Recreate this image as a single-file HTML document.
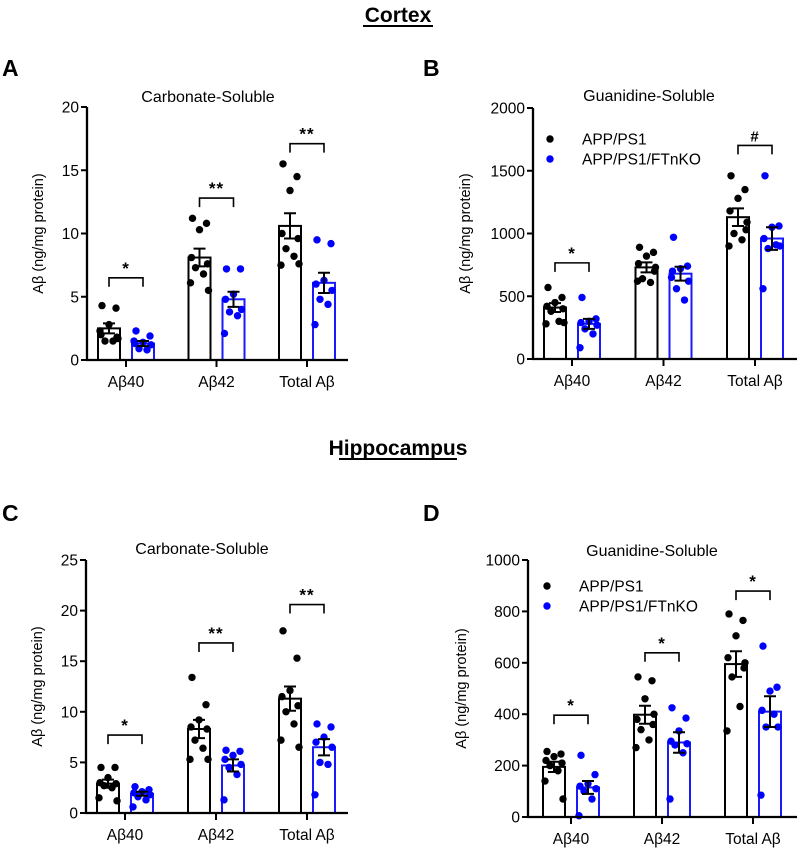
<!DOCTYPE html>
<html><head><meta charset="utf-8"><style>
body{margin:0;background:#fff;font-family:"Liberation Sans",Arial,sans-serif}
svg{display:block}
</style></head><body>
<svg id="fig" width="797" height="850" xmlns="http://www.w3.org/2000/svg" font-family="Liberation Sans, Arial, sans-serif">
<text x="398" y="22" font-size="21" font-weight="bold" text-anchor="middle">Cortex</text>
<line x1="363" y1="26" x2="433" y2="26" stroke="#000" stroke-width="2"/>
<text x="398" y="455" font-size="21" font-weight="bold" text-anchor="middle">Hippocampus</text>
<line x1="339" y1="459" x2="457" y2="459" stroke="#000" stroke-width="2"/>
<text x="2" y="76" font-size="23" font-weight="bold">A</text>
<text x="423" y="76" font-size="23" font-weight="bold">B</text>
<text x="2" y="521" font-size="23" font-weight="bold">C</text>
<text x="423" y="521" font-size="23" font-weight="bold">D</text>
</svg>
<script>
const categories = ["Aβ40","Aβ42","Total Aβ"];
// Panel A
const aTicks = [0,5,10,15,20];
const aMeansWT = [2.5,8.1,10.6], aSemWT = [0.4,0.7,1.0];
const aMeansKO = [1.3,4.8,6.1], aSemKO = [0.2,0.6,0.8];
const aPtsWT = [[4.3,4.1,2.8,2.0,1.8,1.5,1.5,2.3,1.7],[11.2,10.8,10.3,8.1,7.6,7.3,6.8,6.1,5.5],[15.5,14.5,13.4,10.0,9.6,8.8,8.2,7.5,7.6]];
const aPtsKO = [[2.3,1.9,1.4,1.3,1.2,0.9,0.8,1.5],[7.2,7.2,5.2,4.8,4.0,3.8,3.5,2.1],[9.5,9.2,6.3,6.0,5.5,4.8,4.4,2.8]];
const aSigLevels = [6.5,12.8,17.1], aSigText = ["*","**","**"];
// Panel B
const bTicks = [0,500,1000,1500,2000];
const bMeansWT = [410,730,1130], bSemWT = [35,40,70];
const bMeansKO = [280,680,960], bSemKO = [40,55,90];
const bPtsWT = [[570,490,450,420,400,380,300,280,290],[890,850,820,760,700,640,610,620,730],[1460,1350,1280,1180,1030,1000,950,900,1090]];
const bPtsKO = [[490,320,300,290,270,240,200,90],[970,740,720,700,620,560,470,650],[1460,1060,1050,960,900,880,910,560]];
const bSigLevels = [766,null,1702], bSigText = ["*","","#"];
// Panel C
const cTicks = [0,5,10,15,20,25];
const cMeansWT = [2.9,8.3,11.3], cSemWT = [0.4,0.9,1.2];
const cMeansKO = [1.9,4.7,6.5], cSemKO = [0.2,0.6,0.8];
const cPtsWT = [[4.5,4.5,3.5,3.0,2.9,2.7,2.5,1.5,1.2],[13.4,10.7,9.2,8.5,8.3,7.2,6.4,5.3,5.3],[18.0,15.3,12.1,11.5,10.6,10.0,8.8,7.2,6.5]];
const cPtsKO = [[2.6,2.3,2.1,2.0,1.8,1.6,1.3,0.6],[6.2,6.1,5.7,5.3,4.8,4.5,3.8,1.3],[8.8,8.5,7.5,7.0,6.5,5.0,4.8,1.8]];
const cSigLevels = [7.7,16.8,20.6], cSigText = ["*","**","**"];
// Panel D
const dTicks = [0,200,400,600,800,1000];
const dMeansWT = [195,398,595], dSemWT = [20,35,50];
const dMeansKO = [115,290,410], dSemKO = [25,40,60];
const dPtsWT = [[255,245,235,220,210,200,180,140,70],[545,530,460,380,360,340,300,270,400],[790,765,705,620,580,545,430,335,600]];
const dPtsKO = [[240,165,130,120,110,100,70,5],[425,385,335,295,285,280,250,70],[665,505,490,415,350,350,400,85]];
const dSigLevels = [396,639,879], dSigText = ["*","*","*"];

const NS="http://www.w3.org/2000/svg";
const svg=document.getElementById('fig');
function mk(tag,attrs,parent){const e=document.createElementNS(NS,tag);for(const k in attrs)e.setAttribute(k,attrs[k]);(parent||svg).appendChild(e);return e;}
const jit=[-7,7,0,-8,8,-4,4,-9,9];

function panel(id,cfg,d){
  const g=mk('g',{});
  
  
  const max=d.ticks[d.ticks.length-1];
  const y=v=>cfg.y0-(v/max)*(cfg.y0-cfg.yTop);
  const xc=i=>cfg.x1+i*cfg.gap;
  const t=mk('text',{x:cfg.titleX,y:cfg.titleY,'font-size':16,'text-anchor':'middle'},g);
  t.textContent=cfg.title;
  
  
  const yl=mk('text',{x:0,y:0,'font-size':14.5,'text-anchor':'middle',transform:`translate(${cfg.ylX},${(cfg.y0+cfg.yTop)/2}) rotate(-90)`},g);
  yl.textContent='Aβ (ng/mg protein)';
  
  
  const groups=[[d.mWT,d.sWT,d.pWT,'#000',-17,'wt'],[d.mKO,d.sKO,d.pKO,'#1a1aff',17,'ko']];
  for(let i=0;i<categories.length;i++){
    for(const [m,s,p,col,off,nm] of groups){
      const cx=xc(i)+off, bw=22;
      const r=mk('rect',{x:cx-bw/2,y:y(m[i]),width:bw,height:cfg.y0-y(m[i]),fill:'#fff',stroke:col,'stroke-width':2},g);
      
      
      p[i].forEach((v,k)=>{
        const c=mk('circle',{cx:cx+jit[k%jit.length],cy:y(v),r:3.7,fill:col==='#000'?'#000':'#0000ff'},g);
        
        
      });
      const eb=mk('path',{d:`M${cx},${y(m[i]+s[i])}V${y(m[i]-s[i])}M${cx-6},${y(m[i]+s[i])}H${cx+6}M${cx-6},${y(m[i]-s[i])}H${cx+6}`,stroke:'#000','stroke-width':2,fill:'none'},g);
      
      
    }
    if(d.sig[i]!=null){
      const sy=y(d.sig[i]), a=xc(i)-17, b=xc(i)+17;
      const br=mk('path',{d:`M${a},${sy+9}V${sy}H${b}V${sy+9}`,stroke:'#000','stroke-width':1.6,fill:'none'},g);
      
      
      const st=mk('text',{x:xc(i),y:sy-4,'font-size':d.sigT[i]==='#'?15:17,'text-anchor':'middle','font-weight':'bold','letter-spacing':'1'},g);
      st.textContent=d.sigT[i];
      
      
    }
  }
  const ax=mk('path',{d:`M${cfg.ax},${cfg.yTop}V${cfg.y0}H${cfg.xEnd}`,stroke:'#000','stroke-width':2.3,fill:'none'},g);
  
  
  d.ticks.forEach(v=>{
    const tk=mk('line',{x1:cfg.ax-6,x2:cfg.ax,y1:y(v),y2:y(v),stroke:'#000','stroke-width':2},g);
    
    
    const tl=mk('text',{x:cfg.ax-8,y:y(v)+5.5,'font-size':15.5,'text-anchor':'end'},g);
    tl.textContent=v;
    
    
  });
  categories.forEach((c,i)=>{
    const tk=mk('line',{x1:xc(i),x2:xc(i),y1:cfg.y0,y2:cfg.y0+7,stroke:'#000','stroke-width':2},g);
    
    
    const tl=mk('text',{x:xc(i),y:cfg.y0+27,'font-size':15.5,'text-anchor':'middle'},g);
    tl.textContent=c;
    
    
  });
  if(cfg.legend){
    const L=cfg.legend;
    [['APP/PS1','#000',0],['APP/PS1/FTnKO','#0000ff',20]].forEach(([lab,col,dy])=>{
      const c=mk('circle',{cx:L.x,cy:L.y+dy,r:3.7,fill:col},g);
      
      
      const tx=mk('text',{x:L.tx,y:L.y+dy+5.5,'font-size':15.5},g);
      tx.textContent=lab;
      
      
    });
  }
}
panel('panel-a',{title:'Carbonate-Soluble',titleX:208,titleY:102,ylX:43,ax:87,y0:360,yTop:107,xEnd:348,x1:126,gap:90.5},
  {ticks:aTicks,mWT:aMeansWT,sWT:aSemWT,mKO:aMeansKO,sKO:aSemKO,pWT:aPtsWT,pKO:aPtsKO,sig:aSigLevels,sigT:aSigText});
panel('panel-b',{title:'Guanidine-Soluble',titleX:649,titleY:101,ylX:470,ax:533,y0:359,yTop:108,xEnd:797,x1:572,gap:91.5,legend:{x:550,y:139,tx:582}},
  {ticks:bTicks,mWT:bMeansWT,sWT:bSemWT,mKO:bMeansKO,sKO:bSemKO,pWT:bPtsWT,pKO:bPtsKO,sig:bSigLevels,sigT:bSigText});
panel('panel-c',{title:'Carbonate-Soluble',titleX:202,titleY:554,ylX:42,ax:86,y0:813,yTop:560,xEnd:348,x1:125,gap:91},
  {ticks:cTicks,mWT:cMeansWT,sWT:cSemWT,mKO:cMeansKO,sKO:cSemKO,pWT:cPtsWT,pKO:cPtsKO,sig:cSigLevels,sigT:cSigText});
panel('panel-d',{title:'Guanidine-Soluble',titleX:652,titleY:556,ylX:466,ax:528,y0:817,yTop:560,xEnd:797,x1:571,gap:91,legend:{x:547,y:586,tx:579}},
  {ticks:dTicks,mWT:dMeansWT,sWT:dSemWT,mKO:dMeansKO,sKO:dSemKO,pWT:dPtsWT,pKO:dPtsKO,sig:dSigLevels,sigT:dSigText});
</script>
</body></html>
